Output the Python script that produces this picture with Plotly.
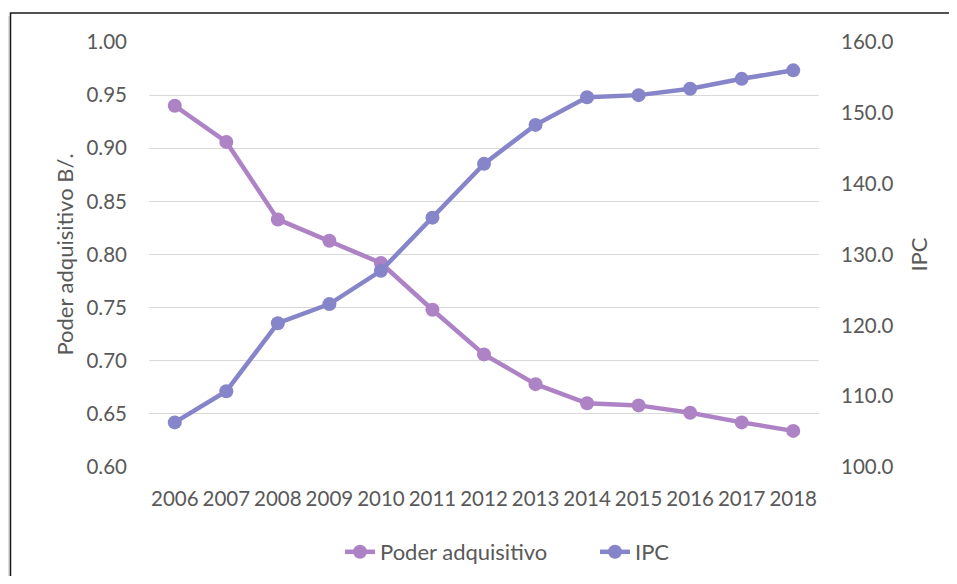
import plotly.graph_objects as go

years = ["2006", "2007", "2008", "2009", "2010", "2011", "2012",
         "2013", "2014", "2015", "2016", "2017", "2018"]
poder = [0.940, 0.906, 0.833, 0.813, 0.792, 0.748, 0.706,
         0.678, 0.660, 0.658, 0.651, 0.642, 0.634]
ipc = [106.3, 110.7, 120.3, 123.0, 127.7, 135.2, 142.8,
       148.3, 152.2, 152.5, 153.4, 154.8, 156.0]

left_ticks = [0.60, 0.65, 0.70, 0.75, 0.80, 0.85, 0.90, 0.95, 1.00]
right_ticks = [100, 110, 120, 130, 140, 150, 160]

C_PODER = "#AD83C6"
C_IPC = "#8785C9"
TXT = "#595959"
FONT = "Lato"
FS = 20.5
FS2 = 22

fig = go.Figure()
fig.add_trace(go.Scatter(
    x=years, y=poder, name="Poder adquisitivo", mode="lines+markers",
    line=dict(color=C_PODER, width=4.5),
    marker=dict(color=C_PODER, size=14),
))
fig.add_trace(go.Scatter(
    x=years, y=ipc, name="IPC", mode="lines+markers", yaxis="y2",
    line=dict(color=C_IPC, width=4.5),
    marker=dict(color=C_IPC, size=14),
))

# page has an 8px body margin; figure coords = page coords - 8
OFF = 8
W, H = 957 - 2 * OFF, 584 - 2 * OFF
L, T = 149 - OFF, 42 - OFF
R = W - (819 - OFF)
B = H - (467 - OFF)
pw, ph = W - L - R, H - T - B

def px_x(v):
    return (v - OFF - L) / pw

def px_y(v):
    return (H - B - (v - OFF)) / ph

shapes = []
for i, col in enumerate(["#E6E6E6", "#D0D0D0"]):
    xx = 8 + i
    shapes.append(dict(type="line", xref="paper", yref="paper",
                       x0=px_x(xx), x1=px_x(xx), y0=px_y(600), y1=px_y(16),
                       line=dict(color=col, width=1.2), layer="below"))
shapes.append(dict(type="rect", xref="paper", yref="paper",
                   x0=px_x(10.5), x1=px_x(975), y0=px_y(600), y1=px_y(13),
                   line=dict(color="#1a1a1a", width=1.5), layer="below"))

fig.update_layout(
    width=W, height=H,
    margin=dict(l=L, r=R, t=T, b=B, pad=0, autoexpand=False),
    paper_bgcolor="white", plot_bgcolor="white",
    font=dict(family=FONT, size=FS, color=TXT),
    showlegend=True,
    legend=dict(orientation="h", x=px_x(340), xanchor="left", y=px_y(531), yanchor="top",
                font=dict(family=FONT, size=FS2, color=TXT),
                entrywidth=210, entrywidthmode="pixels",
                traceorder="normal"),
    xaxis=dict(type="category", range=[-0.5, 12.5], showgrid=False, zeroline=False,
               showline=False, automargin=False, tickangle=0,
               ticks="", tickfont=dict(family=FONT, size=FS, color=TXT),
               ticklabelstandoff=17),
    yaxis=dict(range=[0.60, 1.00], tickvals=left_ticks, tickformat=".2f",
               showgrid=True, gridcolor="#D9D9D9", gridwidth=1.3,
               zeroline=False, showline=False, ticks="", automargin=False,
               tickfont=dict(family=FONT, size=FS, color=TXT),
               ticklabelstandoff=21,
               title=dict(text="Poder adquisitivo B/.", standoff=6,
                          font=dict(family=FONT, size=FS2, color=TXT))),
    yaxis2=dict(range=[100, 160], tickvals=right_ticks, tickformat=".1f",
                overlaying="y", side="right", showgrid=False, zeroline=False,
                showline=False, ticks="", automargin=False,
                tickfont=dict(family=FONT, size=FS, color=TXT),
                ticklabelstandoff=21,
                title=dict(text="IPC", standoff=19,
                           font=dict(family=FONT, size=FS2, color=TXT))),
    shapes=shapes,
)

fig.write_html("out.html")
